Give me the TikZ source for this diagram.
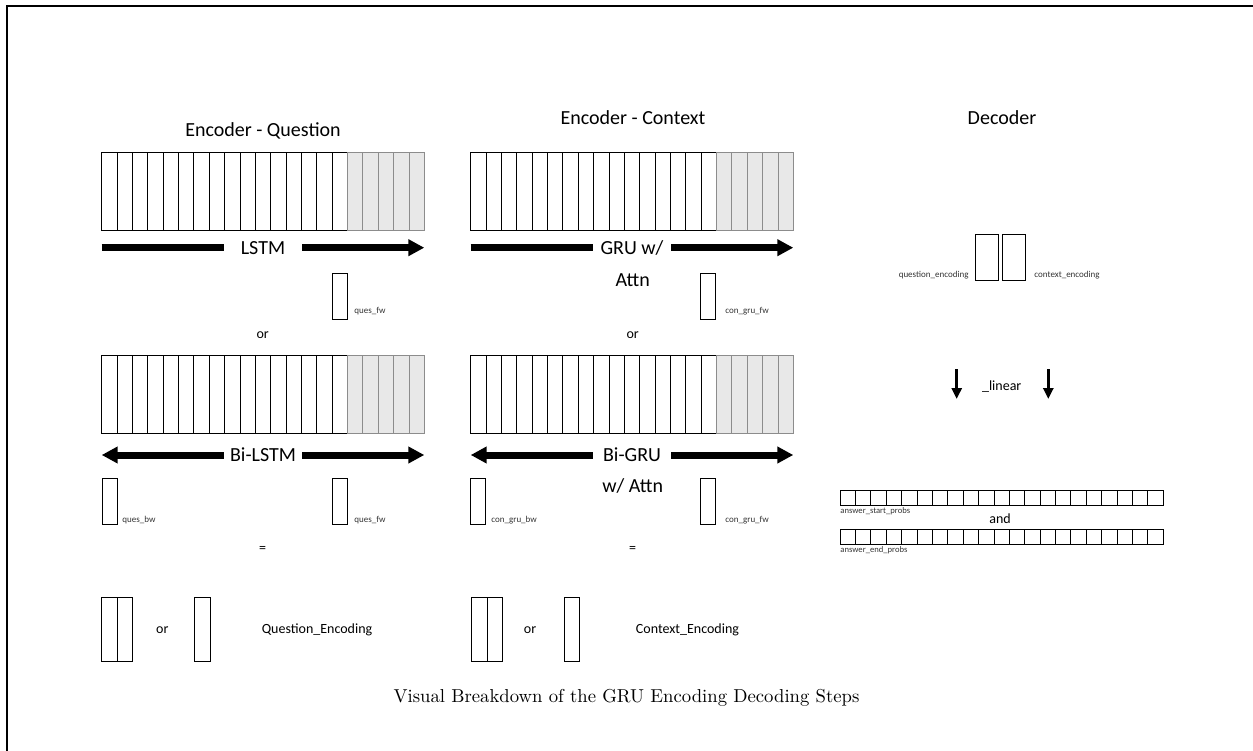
\documentclass[tikz,border=0pt]{standalone}
\usepackage{fontspec}
\usepackage{graphicx}
\newfontfamily\calfont{Carlito}
\usetikzlibrary{arrows.meta,positioning}

\begin{document}
\begin{tikzpicture}[
    x=1pt, y=-1pt,
    font=\calfont, line width=0.9pt,
    title/.style={font=\calfont\fontsize{20}{24}\selectfont},
    midtext/.style={font=\calfont\fontsize{14}{17}\selectfont},
    lbl/.style={font=\calfont\fontsize{9}{11}\selectfont,text=black!80,inner sep=1pt},
    plbl/.style={lbl,font=\calfont\fontsize{8.6}{10}\selectfont},
    cell/.style={draw,fill=white,line width=0.8pt},
    padcell/.style={draw=black!45,fill=black!9,line width=0.8pt},
    vec/.style={draw,fill=white,line width=1pt,minimum width=15pt,minimum height=46pt,inner sep=0pt,outer sep=0pt},
    encvec/.style={vec,minimum width=15.7pt,minimum height=64pt},
    decvec/.style={vec,minimum width=23.5pt,minimum height=46.7pt},
    fwdarrow/.style={line width=7pt,-{Triangle[length=16pt,width=16pt]}},
    biarrow/.style={line width=7pt,{Triangle[length=16pt,width=16pt]}-{Triangle[length=16pt,width=16pt]}},
    onarrow/.style={title,fill=white,minimum width=78pt,inner sep=0pt},
    downarrow/.style={line width=3.2pt,-{Triangle[length=11pt,width=10pt]}}
]
\path[use as bounding box] (0,0) rectangle (1253,751);
\draw[line width=2pt] (7,751) -- (7,6) -- (1253,6);

% column titles
\node[title] (tq) at (263,131) {Encoder - Question};
\node[title] (tc) at (633,118) {Encoder - Context};
\node[title] (td) at (1002,118) {Decoder};

% sequence bars: 16 tokens plus 5 padded slots
\foreach \bx/\by in {101.7/152.7, 470.7/152.7, 101.7/355.5, 470.7/355.5} {
  \foreach \i in {0,...,15}
    \draw[cell] (\bx+\i*15.36,\by) rectangle ++(15.36,77.6);
  \foreach \i in {16,...,20}
    \draw[padcell] (\bx+\i*15.36,\by) rectangle ++(15.36,77.6);
}

% forward encoders
\coordinate (qfA) at (101.7,247.7);
\coordinate (qfB) at (424.3,247.7);
\draw[fwdarrow] (qfA) -- node[onarrow] (lstm) {LSTM} (qfB);
\coordinate (cfA) at (470.7,247.7);
\coordinate (cfB) at (793.3,247.7);
\draw[fwdarrow] (cfA) -- node[onarrow] (gru) {GRU w/} (cfB);
\node[title] (gruattn) at (632.7,280) {Attn};

\node[vec] (qfw) at (339.8,297) {};
\node[lbl,anchor=west] (qfwl) at (353,311) {ques\_fw};
\node[vec] (cfw) at (708.2,297) {};
\node[lbl,anchor=west] (cfwl) at (724,311) {con\_gru\_fw};

\node[midtext] (qor) at (262.7,335) {or};
\node[midtext] (cor) at (632.7,335) {or};

% bidirectional encoders
\coordinate (qbA) at (101.7,455);
\coordinate (qbB) at (424.3,455);
\draw[biarrow] (qbA) -- node[onarrow] (bilstm) {Bi-LSTM} (qbB);
\coordinate (cbA) at (470.7,455);
\coordinate (cbB) at (793.3,455);
\draw[biarrow] (cbA) -- node[onarrow] (bigru) {Bi-GRU} (cbB);
\node[title] (bigruattn) at (632.7,486) {w/ Attn};

\node[vec] (qbw) at (109.5,501.2) {};
\node[lbl,anchor=west] (qbwl) at (121,520) {ques\_bw};
\node[vec] (qbfw) at (339.8,501.2) {};
\node[lbl,anchor=west] (qbfwl) at (353,520) {ques\_fw};
\node[vec] (cbw) at (478.2,501.2) {};
\node[lbl,anchor=west] (cbwl) at (490,520) {con\_gru\_bw};
\node[vec] (cbfw) at (708.2,501.2) {};
\node[lbl,anchor=west] (cbfwl) at (724,520) {con\_gru\_fw};

\node[midtext] (qeq) at (262.7,549.5) {=};
\node[midtext] (ceq) at (632.7,549.5) {=};

% resulting encodings
\node[encvec] (qe1) at (109.4,629) {};
\node[encvec,right=0pt of qe1] (qe2) {};
\node[midtext] (qeor) at (162.3,630) {or};
\node[encvec] (qe3) at (202.8,629) {};
\node[midtext] (qenc) at (317,630) {Question\_Encoding};
\node[encvec] (ce1) at (479.3,629) {};
\node[encvec,right=0pt of ce1] (ce2) {};
\node[midtext] (ceor) at (530,630) {or};
\node[encvec] (ce3) at (572,629) {};
\node[midtext] (cenc) at (687.5,630) {Context\_Encoding};

% decoder
\node[decvec] (dq) at (987,257.6) {};
\node[decvec,right=3.3pt of dq] (dc) {};
\node[lbl,anchor=south east] (dql) at (970,280) {question\_encoding};
\node[lbl,anchor=south west] (dcl) at (1033,280) {context\_encoding};

\coordinate (l1a) at (956.7,369);
\coordinate (l1b) at (956.7,399);
\coordinate (l2a) at (1048.3,369);
\coordinate (l2b) at (1048.3,399);
\draw[downarrow] (l1a) -- (l1b);
\draw[downarrow] (l2a) -- (l2b);
\node[midtext] (lin) at (1001.7,386.7) {\_linear};

\foreach \by in {490,529}
  \foreach \i in {0,...,20}
    \draw[cell] (840+\i*15.39,\by) rectangle ++(15.39,15);
\node[plbl,anchor=west] (sp) at (839,511) {answer\_start\_probs};
\node[midtext] (and) at (1000,518.3) {and};
\node[plbl,anchor=west] (ep) at (839,550) {answer\_end\_probs};

\node[font=\rmfamily\normalsize] (cap) at (626.5,698)
    {\scalebox{1.87}{Visual Breakdown of the GRU Encoding Decoding Steps}};
\end{tikzpicture}
\end{document}
